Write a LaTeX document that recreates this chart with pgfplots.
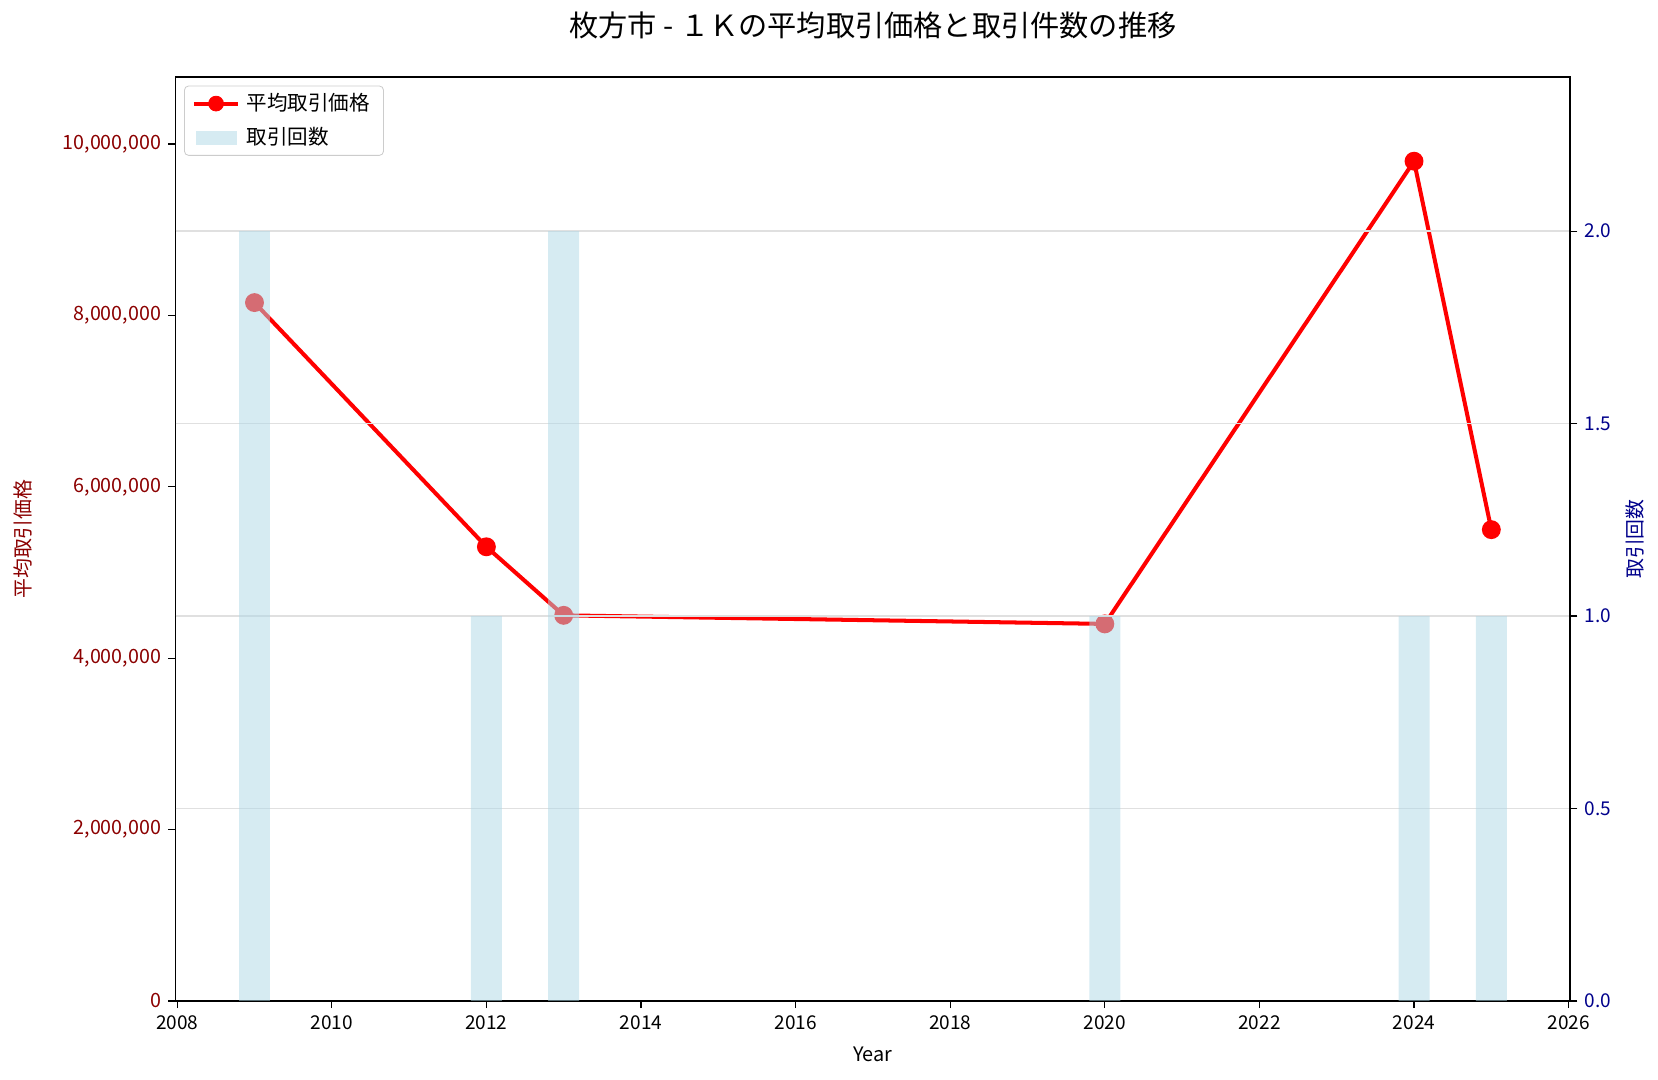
\documentclass[border=0pt]{standalone}
\usepackage{fontspec}
\setmainfont{Noto Sans CJK JP}
\usepackage{pgfplots}
\pgfplotsset{compat=1.18}

\definecolor{darkred}{HTML}{8B0000}
\definecolor{darkblue}{HTML}{00008B}
\definecolor{lightblue}{HTML}{ADD8E6}
\definecolor{legendblue}{HTML}{D6EBF2}

\begin{document}
\begin{tikzpicture}
\useasboundingbox (-83bp,-37bp) rectangle (700.5bp,473bp);

% left axis: average price
\begin{axis}[
    at={(0,0)}, anchor=south west,
    scale only axis,
    width=659bp, height=436.5bp,
    xmin=2007.98, xmax=2026.02,
    ymin=0, ymax=10780000,
    xtick={2008,2010,...,2026},
    ytick={0,2000000,4000000,6000000,8000000,10000000},
    scaled y ticks=false,
    tick align=outside,
    xtick pos=bottom, ytick pos=left,
    major tick length=3.4bp,
    tick style={black, line width=0.6bp},
    axis line style={line width=0.7bp},
    font=\fontsize{9bp}{11bp}\selectfont,
    /pgf/number format/assume math mode=true,
    xticklabel style={/pgf/number format/1000 sep={}},
    yticklabel style={font=\fontsize{9.3bp}{11bp}\selectfont, darkred, /pgf/number format/fixed, /pgf/number format/1000 sep={,}},
    xlabel={Year},
    xlabel style={font=\fontsize{9.4bp}{11bp}\selectfont, at={(axis description cs:0.5,-0.0573)}, anchor=center},
    ylabel={平均取引価格},
    ylabel style={font=\fontsize{9.4bp}{11bp}\selectfont, darkred, at={(axis description cs:-0.1093,0.5)}, anchor=center},
    title={枚方市 - １Ｋの平均取引価格と取引件数の推移},
    title style={font=\fontsize{13.8bp}{16bp}\selectfont, at={(axis description cs:0.5,1.042)}, anchor=center, yshift=0pt},
]
\addplot[red, line width=1.9bp, mark=*, mark size=3.5bp, mark options={solid, fill=red, draw=red}]
coordinates {(2009,8150000) (2012,5300000) (2013,4500000) (2020,4400000) (2024,9800000) (2025,5500000)};
\end{axis}

% right axis: number of transactions
\begin{axis}[
    at={(0,0)}, anchor=south west,
    scale only axis,
    width=659bp, height=436.5bp,
    xmin=2007.98, xmax=2026.02,
    ymin=0, ymax=2.4,
    ytick={0.5,1.0,1.5,2.0},
    extra y ticks={0},
    extra y tick style={grid=none},
    axis y line*=right,
    axis x line=none,
    tick align=outside,
    major tick length=3.4bp,
    tick style={black, line width=0.6bp},
    axis line style={line width=0.7bp},
    font=\fontsize{9bp}{11bp}\selectfont,
    /pgf/number format/assume math mode=true,
    yticklabel style={darkblue, /pgf/number format/fixed, /pgf/number format/fixed zerofill, /pgf/number format/precision=1},
    ymajorgrids,
    grid style={black!12, line width=0.7bp},
    ylabel={取引回数},
    ylabel style={font=\fontsize{9.4bp}{11bp}\selectfont, darkblue, at={(axis description cs:1.0463,0.5)}, anchor=center, rotate=0},
    legend style={at={(axis description cs:0.006,0.991)}, anchor=north west,
        draw=black!20, rounded corners=2bp, fill=white, fill opacity=0.8, text opacity=1,
        font=\fontsize{9.7bp}{11bp}\selectfont, row sep=2.5bp,
        inner xsep=3.5bp, inner ysep=1.5bp,
        nodes={inner xsep=3bp, inner ysep=2bp}},
    legend cell align=left,
]
\addlegendimage{legend image code/.code={
    \draw[red, line width=1.9bp, sharp corners] (0bp,0bp) -- (21bp,0bp);
    \fill[red, fill opacity=1] (10.5bp,0bp) circle (3.5bp);}}
\addlegendentry{平均取引価格}
\addlegendimage{legend image code/.code={
    \fill[legendblue, fill opacity=1, sharp corners] (1bp,-3.2bp) rectangle (20bp,3.2bp);}}
\addlegendentry{取引回数}
\addplot[ybar, bar width=0.4, fill=lightblue, fill opacity=0.5, draw=none, forget plot]
coordinates {(2009,2) (2012,1) (2013,2) (2020,1) (2024,1) (2025,1)};
\end{axis}
\end{tikzpicture}
\end{document}
